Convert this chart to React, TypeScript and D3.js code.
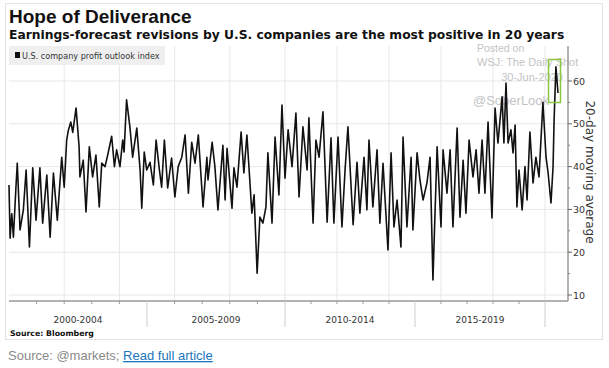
import React from 'react'
import * as d3 from 'd3'

// decimal years, with the 20-day average at each point
const years = [
  2000.0, 2000.04, 2000.1, 2000.16, 2000.25, 2000.3, 2000.4, 2000.52, 2000.62, 2000.74,
  2000.86, 2000.98, 2001.12, 2001.22, 2001.37, 2001.49, 2001.61, 2001.75, 2001.91, 2002.0,
  2002.09, 2002.15, 2002.24, 2002.31, 2002.43, 2002.54, 2002.57, 2002.69, 2002.79, 2002.91,
  2003.03, 2003.15, 2003.27, 2003.36, 2003.48, 2003.6, 2003.72, 2003.82, 2003.9, 2004.02,
  2004.12, 2004.17, 2004.26, 2004.38, 2004.48, 2004.63, 2004.75, 2004.81, 2004.9, 2004.99,
  2005.11, 2005.23, 2005.33, 2005.45, 2005.53, 2005.63, 2005.75, 2005.89, 2006.01, 2006.13,
  2006.26, 2006.38, 2006.5, 2006.62, 2006.74, 2006.86, 2006.92, 2007.03, 2007.17, 2007.21,
  2007.36, 2007.46, 2007.57, 2007.75, 2007.83, 2007.9, 2008.08, 2008.15, 2008.26, 2008.41,
  2008.51, 2008.62, 2008.8, 2008.88, 2008.99, 2009.09, 2009.2, 2009.31, 2009.38, 2009.53,
  2009.64, 2009.78, 2009.89, 2010.0, 2010.12, 2010.27, 2010.42, 2010.54, 2010.69, 2010.85,
  2010.92, 2011.08, 2011.19, 2011.31, 2011.46, 2011.62, 2011.77, 2011.88, 2012.04, 2012.19,
  2012.31, 2012.42, 2012.62, 2012.77, 2012.88, 2013.04, 2013.15, 2013.23, 2013.38, 2013.54,
  2013.65, 2013.77, 2013.96, 2014.08, 2014.19, 2014.31, 2014.46, 2014.54, 2014.69, 2014.85,
  2014.92, 2015.08, 2015.19, 2015.31, 2015.46, 2015.58, 2015.69, 2015.85, 2016.0, 2016.08,
  2016.23, 2016.35, 2016.46, 2016.62, 2016.73, 2016.85, 2016.96, 2017.08, 2017.23, 2017.35,
  2017.46, 2017.58, 2017.69, 2017.81, 2017.96, 2018.08, 2018.19, 2018.35, 2018.42, 2018.5,
  2018.58, 2018.69, 2018.77, 2018.85, 2018.92, 2019.0, 2019.12, 2019.23, 2019.31, 2019.42,
  2019.54, 2019.65, 2019.77, 2019.92, 2020.04, 2020.12, 2020.23, 2020.31, 2020.35, 2020.42,
  2020.5,
]
const outlook = [
  35.7, 23.3, 29, 23.5, 35, 40.8, 25.2, 29.9, 39.2, 21.2,
  39.7, 27.5, 39.7, 26.8, 38, 23.5, 38.5, 27.5, 42.2, 35.2,
  46.2, 48.5, 50.4, 48, 53.7, 44.6, 37.6, 41.5, 29.4, 44.6,
  37.6, 42.7, 30.6, 40.8, 40, 43.4, 47.1, 40, 43.9, 40,
  46.2, 43.4, 55.6, 49.3, 42.2, 49, 39.2, 30.3, 43.4, 39.2,
  41, 35.7, 46.2, 39.2, 35.2, 46.2, 35, 42, 32.9, 40,
  42.2, 47.4, 33.8, 45.7, 40.8, 47.4, 41.5, 30.6, 42.2, 36.9,
  45.7, 40, 29.9, 45, 32.2, 44.3, 30.3, 39.7, 35.2, 48.1,
  38.5, 47.4, 29.1, 33.4, 15.1, 28.2, 26.8, 30.6, 43.2, 26.8,
  46.9, 33.4, 54.4, 37.3, 48.6, 40, 52.5, 32.9, 49.3, 39.2,
  51.4, 26.8, 46.2, 42.2, 52.8, 27, 46.7, 26.8, 46.9, 25.9,
  39.2, 49.3, 26.4, 41, 29.1, 42.2, 29.9, 46.2, 30.6, 43.9,
  26.8, 40.8, 20.5, 43.2, 25.9, 32.2, 21.2, 46.9, 25.9, 42.2,
  25.2, 43.2, 36.9, 32.2, 36.2, 42.2, 13.5, 44.6, 25.9, 43.9,
  33.8, 43.9, 25.9, 49, 28.2, 41.5, 29.1, 46.2, 37.6, 43.9,
  33.8, 46.2, 33.8, 50.4, 28, 53.7, 45.5, 56.3, 45.5, 59.5,
  45.5, 48.6, 43.2, 49.7, 30.6, 39.2, 29.9, 40, 32.2, 48.1,
  36.2, 42.2, 37.6, 55, 42.2, 38.5, 31.5, 40, 50.9, 63.3,
  57.2,
]
const periodLabels = ['2000-2004', '2005-2009', '2010-2014', '2015-2019']
const periodStarts = [2000, 2005, 2010, 2015, 2020]
const yTicks = [10, 20, 30, 40, 50, 60]
const yMinor = [15, 25, 35, 45, 55]

const W = 609
const H = 368
const left = 9
const right = 568
const top = 46
const bottom = 301

const App = (): JSX.Element => {
  // the picture's year spacing is slightly tighter after 2010
  const x = d3.scaleLinear().domain([2000, 2010, 2020]).range([9, 285, 545])
  const y = d3.scaleLinear().domain([10, 60]).range([295, 81])
  const data = years.map((d, i) => ({ year: d, value: outlook[i] }))
  const line = d3
    .line<{ year: number; value: number }>()
    .x(d => x(d.year))
    .y(d => y(d.value))
  const gridYears = d3.range(2002, 2021, 2)
  const minorYears = d3.range(2001, 2020).filter(d => d % 5 !== 0)
  const sans = 'DejaVu Sans, Verdana, sans-serif'

  return (
    <svg
      width={W}
      height={H}
      style={{ position: 'absolute', left: 0, top: 0, background: '#fff' }}
    >
      <rect x={5.5} y={3.5} width={597} height={336} fill='#fff' stroke='#e2e2e2' />
      <text x={9} y={23} fontFamily='Liberation Sans, Arial, sans-serif' fontWeight='bold' fontSize={19} fill='#111'>
        Hope of Deliverance
      </text>

      {gridYears.map(d => (
        <line key={'gx' + d} x1={x(d)} x2={x(d)} y1={top} y2={bottom} stroke='#e8e8e8' />
      ))}
      {yTicks.map(d => (
        <line key={'gy' + d} x1={left} x2={right} y1={y(d)} y2={y(d)} stroke='#e8e8e8' />
      ))}

      <rect x={9} y={46} width={156} height={19} fill='#efefef' />
      <rect x={15} y={52} width={5} height={6} fill='#111' />
      <text x={22} y={58.5} fontFamily={sans} fontSize={8.1} fill='#333'>
        U.S. company profit outlook index
      </text>

      <g fontFamily='Liberation Sans, Arial, sans-serif' fill='#c4c4c4'>
        <text x={477} y={52} fontSize={10.5}>Posted on</text>
        <text x={477} y={66} fontSize={11}>WSJ: The Daily Shot</text>
        <text x={563} y={81} fontSize={11} textAnchor='end'>30-Jun-2020</text>
        <text x={473} y={105} fontSize={13}>@SoberLook</text>
      </g>

      <text x={9} y={39} fontFamily={sans} fontWeight='bold' fontSize={12.3} fill='#111'>
        Earnings-forecast revisions by U.S. companies are the most positive in 20 years
      </text>

      <path d={line(data) || ''} fill='none' stroke='#111' strokeWidth={1.6} strokeLinejoin='round' />

      <rect x={548.5} y={59.5} width={12} height={43} fill='none' stroke='#8cc63f' strokeWidth={1.5} />

      {/* right axis */}
      <line x1={right} x2={right} y1={top} y2={bottom} stroke='#999' strokeWidth={1.5} />
      {yTicks.map(d => (
        <g key={'yt' + d}>
          <line x1={right} x2={right + 4} y1={y(d)} y2={y(d)} stroke='#666' />
          <text x={right + 5} y={y(d) + 3.5} fontFamily={sans} fontSize={9.5} fill='#333'>
            {d}
          </text>
        </g>
      ))}
      {yMinor.map(d => (
        <line key={'ym' + d} x1={right} x2={right + 2} y1={y(d)} y2={y(d)} stroke='#888' />
      ))}
      <text
        transform={`translate(586,172) rotate(90)`}
        textAnchor='middle'
        fontFamily={sans}
        fontSize={12}
        fill='#333'
      >
        20-day moving average
      </text>

      {/* bottom axis */}
      <line x1={left} x2={right} y1={bottom} y2={bottom} stroke='#999' strokeWidth={1.5} />
      {minorYears.map(d => (
        <line key={'xt' + d} x1={x(d)} x2={x(d)} y1={bottom} y2={bottom + 3} stroke='#999' />
      ))}
      {periodStarts.slice(1).map(d => (
        <line key={'sep' + d} x1={x(d)} x2={x(d)} y1={bottom} y2={327} stroke='#cfcfcf' />
      ))}
      {periodLabels.map((label, i) => (
        <text
          key={label}
          x={(x(periodStarts[i]) + x(periodStarts[i + 1])) / 2}
          y={323}
          textAnchor='middle'
          fontFamily={sans}
          fontSize={9}
          fill='#333'
        >
          {label}
        </text>
      ))}
      <text x={10} y={336} fontFamily={sans} fontWeight='bold' fontSize={7.8} fill='#111'>
        Source: Bloomberg
      </text>

      <text x={8} y={360} fontFamily='Liberation Sans, Arial, sans-serif' fontSize={13} fill='#8a8a8a'>
        Source: @markets;{' '}
        <tspan fill='#1b75bc' style={{ textDecoration: 'underline' }}>
          Read full article
        </tspan>
      </text>
    </svg>
  )
}

export default App
